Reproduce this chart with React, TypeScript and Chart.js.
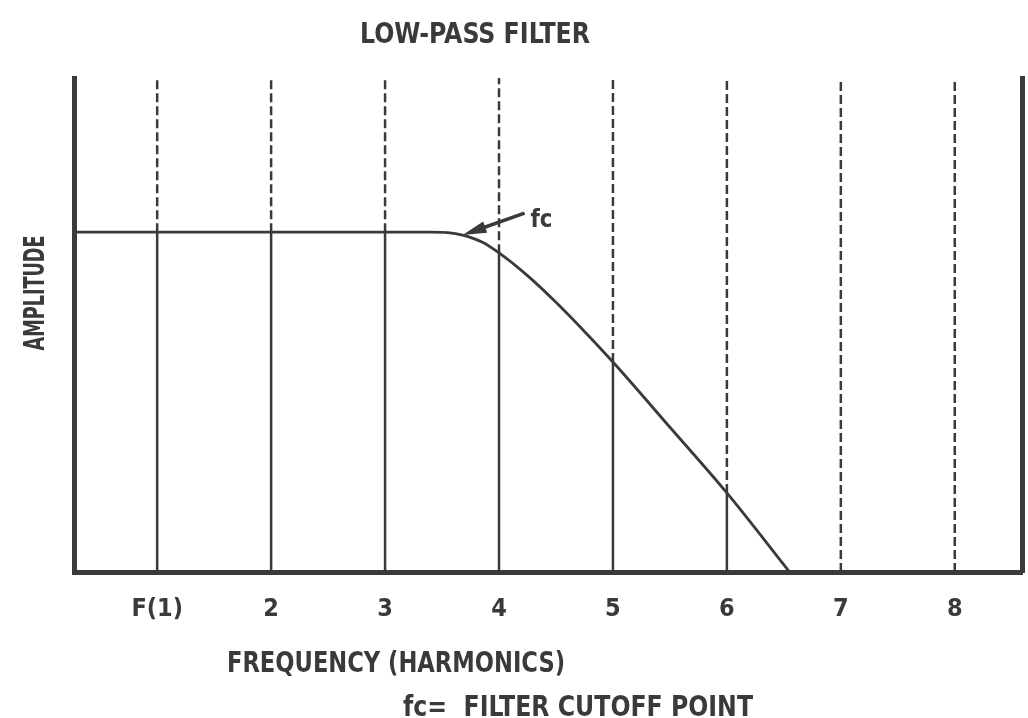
import React, { useEffect, useRef } from "react";
import { Chart, registerables } from "chart.js";

Chart.register(...registerables);

// ---- data ----
const harmonics = [1, 2, 3, 4, 5, 6, 7, 8];
const harmonicLabels = ["F(1)", "2", "3", "4", "5", "6", "7", "8"];
// amplitude of the response curve at each harmonic (solid part of each line)
const harmonicLevels = [6.88, 6.88, 6.88, 6.45, 4.25, 1.6, 0, 0];
// low-pass response curve
const curveX = [0.27, 1, 2, 3, 3.4, 3.55, 3.68, 3.85, 4.0, 4.25, 4.5, 4.75, 5.0, 5.5, 6.0, 6.55];
const curveY = [6.88, 6.88, 6.88, 6.88, 6.88, 6.87, 6.82, 6.68, 6.46, 6.0, 5.46, 4.87, 4.25, 2.93, 1.6, 0];
const fcPoint = { x: 3.68, y: 6.82 };
const xMin = 0.27;
const xMax = 8.59;
const yMin = 0;
const yMax = 10;

const INK = "#3a3a3a";
const FONT = '"Liberation Sans Narrow", "DejaVu Sans Condensed", "Roboto Condensed", "Liberation Sans", Arial, sans-serif';

function drawFitted(
  ctx: CanvasRenderingContext2D,
  text: string,
  cx: number,
  baseY: number,
  width: number,
  size: number
) {
  ctx.save();
  ctx.font = `bold ${size}px ${FONT}`;
  const m = ctx.measureText(text).width;
  ctx.translate(cx, baseY);
  ctx.scale(width / m, 1);
  ctx.textAlign = "center";
  ctx.textBaseline = "alphabetic";
  ctx.fillStyle = INK;
  ctx.fillText(text, 0, 0);
  ctx.restore();
}

const textPlugin = {
  id: "textPlugin",
  beforeDraw(chart: any) {
    const ctx = chart.ctx;
    ctx.save();
    ctx.fillStyle = "#ffffff";
    ctx.fillRect(0, 0, chart.width, chart.height);
    ctx.restore();
  },
  afterDraw(chart: any) {
    const ctx: CanvasRenderingContext2D = chart.ctx;
    const xs = chart.scales.x;
    const ys = chart.scales.y;
    drawFitted(ctx, "LOW-PASS FILTER", 475, 43, 230, 29);

    ctx.save();
    ctx.font = `bold 28px ${FONT}`;
    const m = ctx.measureText("AMPLITUDE").width;
    ctx.translate(44, 293);
    ctx.rotate(-Math.PI / 2);
    ctx.scale(115 / m, 1);
    ctx.textAlign = "center";
    ctx.textBaseline = "alphabetic";
    ctx.fillStyle = INK;
    ctx.fillText("AMPLITUDE", 0, 0);
    ctx.restore();

    drawFitted(ctx, "FREQUENCY (HARMONICS)", 396, 672, 338, 28);
    drawFitted(ctx, "fc=  FILTER CUTOFF POINT", 578, 716, 350, 28);

    // fc annotation with arrow
    const tipX = xs.getPixelForValue(fcPoint.x);
    const tipY = ys.getPixelForValue(fcPoint.y);
    const tailX = tipX + 62;
    const tailY = tipY - 22;
    const ang = Math.atan2(tipY - tailY, tipX - tailX);
    ctx.save();
    ctx.strokeStyle = INK;
    ctx.fillStyle = INK;
    ctx.lineWidth = 3.5;
    ctx.beginPath();
    ctx.moveTo(tailX, tailY);
    ctx.lineTo(tipX + Math.cos(ang) * -10, tipY + Math.sin(ang) * -10);
    ctx.stroke();
    const L = 24;
    const W = 6;
    ctx.beginPath();
    ctx.moveTo(tipX, tipY);
    ctx.lineTo(tipX - L * Math.cos(ang) + W * Math.sin(ang), tipY - L * Math.sin(ang) - W * Math.cos(ang));
    ctx.lineTo(tipX - L * Math.cos(ang) - W * Math.sin(ang), tipY - L * Math.sin(ang) + W * Math.cos(ang));
    ctx.closePath();
    ctx.fill();
    ctx.restore();
    drawFitted(ctx, "fc", tipX + 79, tipY - 8, 22, 24);
  },
};

export default function App() {
  const ref = useRef<HTMLCanvasElement | null>(null);

  useEffect(() => {
    if (!ref.current) return;
    const datasets: any[] = [];
    harmonics.forEach((h, i) => {
      const lvl = harmonicLevels[i];
      if (lvl > 0) {
        datasets.push({
          data: [
            { x: h, y: yMin },
            { x: h, y: lvl },
          ],
          borderColor: INK,
          borderWidth: 2.5,
          pointRadius: 0,
        });
      }
      datasets.push({
        data: [
          { x: h, y: lvl },
          { x: h, y: yMax },
        ],
        borderColor: INK,
        borderWidth: 2.5,
        borderDash: [9, 4],
        pointRadius: 0,
      });
    });
    datasets.push({
      data: curveX.map((x, i) => ({ x, y: curveY[i] })),
      borderColor: INK,
      borderWidth: 2.8,
      pointRadius: 0,
      cubicInterpolationMode: "monotone",
    });

    const chart = new Chart(ref.current, {
      type: "line",
      data: { datasets },
      options: {
        responsive: false,
        animation: false,
        layout: { padding: { top: 78, left: 0, right: 0, bottom: 0 } },
        plugins: {
          legend: { display: false },
          tooltip: { enabled: false },
          title: { display: false },
        },
        scales: {
          x: {
            type: "linear",
            min: xMin,
            max: xMax,
            grid: { display: false, drawTicks: false },
            border: { display: true, width: 5, color: INK },
            afterBuildTicks: (scale: any) => {
              scale.ticks = harmonics.map((v) => ({ value: v }));
            },
            afterFit: (scale: any) => {
              scale.height = 718 - 572;
            },
            ticks: {
              autoSkip: false,
              maxRotation: 0,
              padding: 22,
              color: INK,
              font: { family: FONT, size: 25, weight: "bold" },
              callback: (v: any) => {
                const idx = harmonics.indexOf(Number(v));
                return idx >= 0 ? harmonicLabels[idx] : "";
              },
            },
          },
          y: {
            type: "linear",
            position: "left",
            min: yMin,
            max: yMax,
            grid: { display: false, drawTicks: false },
            border: { display: true, width: 5, color: INK },
            ticks: { display: false },
            afterFit: (scale: any) => {
              scale.width = 74;
            },
          },
          y2: {
            type: "linear",
            position: "right",
            min: yMin,
            max: yMax,
            grid: { display: false, drawTicks: false },
            border: { display: true, width: 5, color: INK },
            ticks: { display: false },
            afterFit: (scale: any) => {
              scale.width = 6;
            },
          },
        },
      } as any,
      plugins: [textPlugin],
    });
    return () => chart.destroy();
  }, []);

  return (
    <div style={{ position: "absolute", left: 0, top: 0, width: 1028, height: 718, background: "#fff" }}>
      <canvas ref={ref} width={1028} height={718} style={{ display: "block" }} />
    </div>
  );
}
